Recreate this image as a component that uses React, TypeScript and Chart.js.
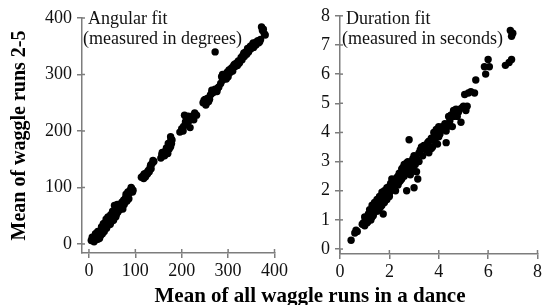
import React, { useEffect, useRef } from "react";
import { Chart, registerables } from "chart.js";
Chart.register(...registerables);

// Angular fit (degrees)
const angX = [5, 8, 10, 12, 13, 15, 16, 18, 20, 20, 22, 24, 25, 26, 28, 30, 30, 32, 34, 35, 36, 38, 40, 40, 42, 44, 45, 46, 48, 50, 50, 52, 54, 55, 55, 56, 58, 60, 60, 62, 64, 65, 68, 70, 72, 74, 75, 78, 80, 82, 84, 86, 88, 90, 92, 94,
  7, 11, 14, 17, 19, 23, 27, 29, 31, 33, 37, 39, 41, 43, 47, 49, 51, 53, 57, 59, 61, 63, 66, 69, 71, 73, 76, 79, 83, 87, 91, 95,
  113, 116, 118, 120, 122, 124, 126, 128, 130, 132, 134, 136, 138, 140, 119, 127, 133,
  155, 157, 160, 162, 164, 166, 168, 170, 170, 172, 173, 175, 176, 177, 178, 176, 158, 163, 167, 171, 174, 179,
  196, 200, 204, 206, 210, 212, 216, 218, 222, 226, 228, 232, 203, 208, 214,
  246, 250, 252, 256, 258, 262, 265, 268, 272, 276, 272, 280, 248, 254, 260, 264, 270, 278,
  284, 286, 288, 290, 294, 296, 298, 300, 302, 305, 308, 310, 312, 315, 318, 320, 322, 325, 328, 330, 332, 335, 338, 340, 342, 345, 348, 350, 352, 355, 358, 360, 362, 366, 370, 372, 374, 378, 380,
  288, 292, 300, 306, 314, 324, 334, 344, 354, 364, 368, 376];
const angY = [6, 8, 12, 7, 14, 10, 16, 12, 18, 9, 14, 20, 24, 16, 22, 28, 32, 25, 30, 38, 33, 28, 36, 42, 38, 40, 46, 35, 44, 48, 52, 45, 50, 58, 68, 54, 48, 62, 66, 56, 64, 60, 62, 70, 66, 72, 78, 74, 88, 76, 92, 80, 94, 96, 98, 92,
  12, 4, 18, 8, 22, 10, 30, 18, 36, 22, 44, 32, 48, 34, 52, 40, 58, 42, 62, 52, 70, 58, 68, 64, 74, 62, 70, 82, 84, 90, 100, 95,
  118, 120, 116, 122, 119, 126, 124, 130, 128, 136, 133, 142, 148, 146, 124, 126, 140,
  152, 158, 156, 162, 160, 166, 164, 170, 160, 174, 168, 180, 172, 186, 178, 190, 162, 156, 170, 178, 176, 184,
  198, 204, 208, 228, 222, 214, 218, 206, 226, 220, 232, 228, 200, 216, 226,
  250, 256, 246, 258, 252, 264, 272, 268, 274, 270, 340, 278, 254, 250, 256, 266, 270, 276,
  284, 296, 290, 298, 300, 292, 304, 296, 308, 304, 312, 306, 316, 314, 320, 316, 324, 322, 330, 326, 334, 332, 340, 336, 346, 342, 350, 346, 352, 348, 356, 352, 358, 356, 362, 384, 378, 372, 370,
  300, 294, 300, 310, 318, 320, 338, 340, 356, 360, 358, 380];

// Duration fit (seconds)
const durX = [0.45, 0.6, 0.7, 0.65, 0.9, 0.95, 1.0, 1.05, 1.1, 1.1, 1.15, 1.2, 1.2, 1.25, 1.3, 1.3, 1.35, 1.4, 1.4, 1.45, 1.5, 1.5, 1.55, 1.6, 1.6, 1.65, 1.7, 1.7, 1.75, 1.75, 1.8, 1.8, 1.85, 1.9, 1.9, 1.95, 2.0, 2.0, 2.05, 2.1, 2.15, 2.2, 2.25, 2.3, 2.35, 2.4, 2.4, 2.45, 2.5, 2.5, 2.55, 2.6, 2.6, 2.65, 2.7, 2.7, 2.75, 2.8, 2.8, 2.85, 2.9, 2.95, 3.0, 3.0, 3.05, 3.15, 3.1, 3.1, 3.2, 3.3, 3.35, 3.4, 3.5, 3.55, 3.6, 3.7, 3.75, 3.8, 3.85, 3.9, 3.95, 4.0, 4.05, 4.1, 4.25, 4.3, 4.35, 4.4, 4.5, 4.55, 4.6, 4.7, 4.75, 4.85, 4.9, 5.0, 5.1, 5.05, 5.2, 5.3, 5.45, 5.5, 5.85, 5.9, 6.0, 6.05, 6.7, 6.85, 6.95, 6.9, 6.95, 7.0,
  1.0, 1.15, 1.2, 1.3, 1.35, 1.45, 1.5, 1.55, 1.6, 1.65, 1.7, 1.75, 1.8, 1.85, 1.9, 1.95, 2.0, 2.05, 2.1, 2.2, 2.25, 2.3, 2.35, 2.45, 2.5, 2.55, 2.6, 2.65, 2.7, 2.75, 2.8, 2.85, 2.9, 2.95, 3.05, 3.2, 3.25, 3.45, 3.6, 3.7, 3.8, 3.9, 4.0, 4.15, 4.3, 4.45, 4.6, 4.8, 4.95, 5.15];
const durY = [0.3, 0.55, 0.6, 0.65, 0.85, 0.9, 0.8, 1.0, 1.05, 0.9, 1.2, 1.1, 1.35, 1.0, 1.25, 1.5, 1.15, 1.4, 1.6, 1.3, 1.5, 1.7, 1.35, 1.55, 1.8, 1.45, 1.65, 1.95, 1.2, 1.75, 1.6, 2.0, 1.85, 1.7, 2.1, 1.95, 1.8, 2.15, 2.0, 2.4, 2.1, 2.3, 2.0, 2.45, 2.2, 2.6, 2.3, 2.5, 2.75, 2.4, 2.6, 2.9, 2.5, 2.75, 2.0, 2.95, 2.6, 3.75, 2.8, 2.55, 3.0, 2.8, 2.1, 3.2, 2.9, 2.4, 2.65, 3.1, 3.3, 3.5, 3.2, 3.55, 3.4, 3.65, 3.3, 3.8, 3.5, 4.0, 3.7, 3.9, 3.6, 4.2, 3.95, 4.1, 4.3, 3.65, 4.2, 4.55, 4.6, 4.2, 4.75, 4.8, 4.55, 4.8, 4.35, 4.9, 4.75, 5.3, 5.35, 5.4, 5.35, 5.8, 6.25, 6.0, 6.5, 6.25, 6.3, 6.4, 6.5, 7.5, 7.3, 7.4,
  1.1, 0.95, 1.25, 1.1, 1.4, 1.55, 1.3, 1.65, 1.4, 1.75, 1.5, 1.9, 1.7, 2.0, 1.85, 2.1, 1.9, 2.25, 2.05, 2.15, 2.35, 2.25, 2.5, 2.35, 2.6, 2.8, 2.65, 2.9, 2.7, 3.0, 2.6, 2.85, 2.7, 3.1, 3.15, 3.0, 3.4, 3.5, 3.7, 3.45, 3.8, 4.1, 3.85, 4.2, 4.05, 4.4, 4.55, 4.7, 4.85, 4.9];

const angTicks = [0, 100, 200, 300, 400];
const durXTicks = [0, 2, 4, 6, 8];
const durYTicks = [0, 1, 2, 3, 4, 5, 6, 7, 8];

const AXIS = "#7d7d7d";
const FONT = "'Liberation Serif', 'Times New Roman', serif";

const innerTicks = {
  id: "innerTicks",
  afterDraw(chart: any) {
    const ctx = chart.ctx;
    const a = chart.chartArea;
    const xs = chart.scales.x;
    const ys = chart.scales.y;
    ctx.save();
    ctx.strokeStyle = AXIS;
    ctx.lineWidth = 1.5;
    xs.ticks.forEach((t: any) => {
      const p = xs.getPixelForValue(t.value);
      ctx.beginPath();
      ctx.moveTo(p, a.bottom);
      ctx.lineTo(p, a.bottom - 4);
      ctx.stroke();
    });
    ys.ticks.forEach((t: any) => {
      const p = ys.getPixelForValue(t.value);
      ctx.beginPath();
      ctx.moveTo(a.left, p);
      ctx.lineTo(a.left + 3, p);
      ctx.stroke();
    });
    ctx.restore();
  },
};

function makeConfig(p: {
  xs: number[]; ys: number[]; xMin: number; xMax: number; yMin: number; yMax: number;
  xTicks: number[]; yTicks: number[]; yWidth: number; xHeight: number;
  padTop: number; padRight: number; yTitle?: string;
}): any {
  const tickFont = { family: FONT, size: 18 };
  return {
    type: "scatter",
    data: {
      datasets: [
        {
          data: p.xs.map((x, i) => ({ x, y: p.ys[i] })),
          backgroundColor: "#000",
          borderWidth: 0,
          pointRadius: 3.7,
        },
      ],
    },
    options: {
      responsive: false,
      animation: false,
      layout: { padding: { top: p.padTop, right: p.padRight, left: 0, bottom: 0 } },
      plugins: { legend: { display: false }, tooltip: { enabled: false } },
      scales: {
        x: {
          type: "linear",
          min: p.xMin,
          max: p.xMax,
          afterBuildTicks: (s: any) => { s.ticks = p.xTicks.map((v) => ({ value: v })); },
          afterFit: (s: any) => { s.height = p.xHeight; },
          grid: { drawOnChartArea: false, drawTicks: true, tickLength: 5, color: AXIS, lineWidth: 1.5 },
          border: { display: true, color: AXIS, width: 1.5 },
          ticks: { font: tickFont, color: "#111", padding: 2, maxRotation: 0 },
        },
        y: {
          type: "linear",
          min: p.yMin,
          max: p.yMax,
          afterBuildTicks: (s: any) => { s.ticks = p.yTicks.map((v) => ({ value: v })); },
          afterFit: (s: any) => { s.width = p.yWidth; },
          grid: { drawOnChartArea: false, drawTicks: true, tickLength: 5, color: AXIS, lineWidth: 1.5 },
          border: { display: true, color: AXIS, width: 1.5 },
          ticks: { font: tickFont, color: "#111", padding: 5 },
          title: p.yTitle
            ? {
                display: true,
                text: p.yTitle,
                color: "#000",
                font: { family: FONT, size: 20, weight: "bold" },
                padding: { top: 8, bottom: 0 },
              }
            : { display: false },
        },
      },
    },
    plugins: [innerTicks],
  };
}

export default function App() {
  const leftRef = useRef<HTMLCanvasElement>(null);
  const rightRef = useRef<HTMLCanvasElement>(null);

  useEffect(() => {
    const c1 = new Chart(
      leftRef.current as HTMLCanvasElement,
      makeConfig({
        xs: angX, ys: angY, xMin: -15, xMax: 400, yMin: -16, yMax: 400,
        xTicks: angTicks, yTicks: angTicks, yWidth: 82, xHeight: 52,
        padTop: 18, padRight: 10, yTitle: "Mean of waggle runs 2-5",
      })
    );
    const c2 = new Chart(
      rightRef.current as HTMLCanvasElement,
      makeConfig({
        xs: durX, ys: durY, xMin: 0, xMax: 8, yMin: -0.17, yMax: 8,
        xTicks: durXTicks, yTicks: durYTicks, yWidth: 50, xHeight: 51,
        padTop: 15, padRight: 6,
      })
    );
    return () => {
      c1.destroy();
      c2.destroy();
    };
  }, []);

  const note: React.CSSProperties = {
    position: "absolute",
    fontFamily: FONT,
    fontSize: 18,
    lineHeight: "20px",
    color: "#111",
    whiteSpace: "nowrap",
  };

  return (
    <div style={{ position: "absolute", left: 0, top: 0, width: 544, height: 305, overflow: "hidden", background: "#fff" }}>
      <canvas ref={leftRef} width={290} height={305} style={{ position: "absolute", left: 0, top: 0 }} />
      <canvas ref={rightRef} width={254} height={305} style={{ position: "absolute", left: 290, top: 0 }} />
      <div style={{ ...note, left: 88, top: 8 }}>Angular fit</div>
      <div style={{ ...note, left: 83, top: 28 }}>(measured in degrees)</div>
      <div style={{ ...note, left: 346, top: 8 }}>Duration fit</div>
      <div style={{ ...note, left: 342, top: 28 }}>(measured in seconds)</div>
      <div
        style={{
          position: "absolute",
          left: 310,
          top: 283,
          transform: "translateX(-50%)",
          fontFamily: FONT,
          fontSize: 21,
          fontWeight: "bold",
          lineHeight: "24px",
          whiteSpace: "nowrap",
          color: "#000",
        }}
      >
        Mean of all waggle runs in a dance
      </div>
    </div>
  );
}
